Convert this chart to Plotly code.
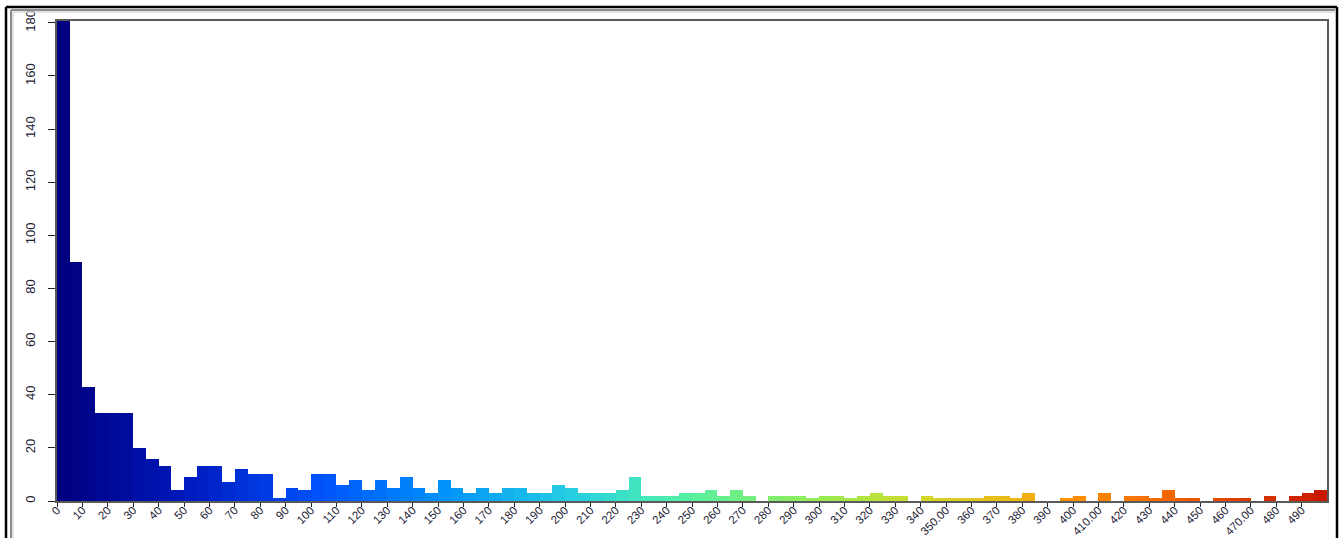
import plotly.graph_objects as go
from plotly.colors import sample_colorscale

# Histogram of counts in 5-unit bins from 0 to 500
bin_width = 5
bin_lefts = list(range(0, 500, bin_width))
counts = [
    181, 90, 43, 33, 33, 33, 20, 16, 13, 4,
    9, 13, 13, 7, 12, 10, 10, 1, 5, 4,
    10, 10, 6, 8, 4, 8, 5, 9, 5, 3,
    8, 5, 3, 5, 3, 5, 5, 3, 3, 6,
    5, 3, 3, 3, 4, 9, 2, 2, 2, 3,
    3, 4, 2, 4, 2, 0, 2, 2, 2, 1,
    2, 2, 1, 2, 3, 2, 2, 0, 2, 1,
    1, 1, 1, 2, 2, 1, 3, 0, 0, 1,
    2, 0, 3, 0, 2, 2, 1, 4, 1, 1,
    0, 1, 1, 1, 0, 2, 0, 2, 3, 4,
]
tick_values = list(range(0, 500, 10))
tick_labels = [
    "0", "10", "20", "30", "40", "50", "60", "70", "80", "90",
    "100", "110", "120", "130", "140", "150", "160", "170", "180", "190",
    "200", "210", "220", "230", "240", "250", "260", "270", "280", "290",
    "300", "310", "320", "330", "340", "350.00", "360", "370", "380", "390",
    "400", "410.00", "420", "430", "440", "450", "460", "470.00", "480", "490",
]
y_ticks = [0, 20, 40, 60, 80, 100, 120, 140, 160, 180]

# jet-like ramp from navy through cyan and yellow to red
ramp = [
    [0.00, "rgb(0,0,128)"],
    [0.10, "rgb(0,26,190)"],
    [0.20, "rgb(0,80,250)"],
    [0.30, "rgb(0,145,250)"],
    [0.40, "rgb(35,205,228)"],
    [0.455, "rgb(64,228,192)"],
    [0.50, "rgb(88,240,160)"],
    [0.60, "rgb(150,236,85)"],
    [0.68, "rgb(208,218,42)"],
    [0.76, "rgb(238,182,20)"],
    [0.80, "rgb(255,145,0)"],
    [0.88, "rgb(245,100,0)"],
    [0.95, "rgb(216,52,0)"],
    [1.00, "rgb(200,26,0)"],
]
n = len(counts)
bar_colors = sample_colorscale(ramp, [i / (n - 1) for i in range(n)])

W, H = 1341, 538
L, R, T, B = 57, 1327, 21, 501

fig = go.Figure(
    go.Bar(
        x=[b + bin_width / 2 for b in bin_lefts],
        y=counts,
        width=bin_width,
        marker=dict(color=bar_colors, line=dict(width=0)),
        hoverinfo="x+y",
    )
)


def px_x(p):
    return (p - L) / (R - L)


def px_y(p):
    return (B - p) / (B - T)


frame = [
    # outer black frame
    dict(x0=px_x(6), x1=px_x(6), y0=px_y(545), y1=px_y(7), color="#000000", w=2.5),
    dict(x0=px_x(6), x1=px_x(1337), y0=px_y(7), y1=px_y(7), color="#000000", w=2.5),
    dict(x0=px_x(1337), x1=px_x(1337), y0=px_y(7), y1=px_y(545), color="#000000", w=2.5),
    # inner grey bevel
    dict(x0=px_x(11), x1=px_x(11), y0=px_y(545), y1=px_y(10), color="#8c8c8c", w=2),
    dict(x0=px_x(11), x1=px_x(1335), y0=px_y(10), y1=px_y(10), color="#8c8c8c", w=2),
    dict(x0=px_x(13), x1=px_x(13), y0=px_y(545), y1=px_y(12), color="#d8d8d8", w=1.5),
    dict(x0=px_x(13), x1=px_x(1335), y0=px_y(12), y1=px_y(12), color="#d8d8d8", w=1.5),
]
shapes = [
    dict(type="line", xref="paper", yref="paper", x0=s["x0"], x1=s["x1"],
         y0=s["y0"], y1=s["y1"], line=dict(color=s["color"], width=s["w"]),
         layer="above")
    for s in frame
]

font_family = "Liberation Sans, Arial, sans-serif"
label_color = "#1e2236"

fig.update_layout(
    width=W,
    height=H,
    margin=dict(l=L, r=W - R, t=T, b=H - B, pad=0, autoexpand=False),
    paper_bgcolor="white",
    plot_bgcolor="white",
    bargap=0,
    showlegend=False,
    shapes=shapes,
    xaxis=dict(
        range=[0, 500],
        automargin=False,
        tickmode="array",
        tickvals=tick_values,
        ticktext=tick_labels,
        tickangle=-45,
        ticks="outside",
        ticklen=4,
        tickcolor="#222222",
        tickfont=dict(family=font_family, size=11.5, color=label_color),
        ticklabelstandoff=-8,
        showgrid=False,
        zeroline=False,
        showline=True,
        linecolor="#5a5a5a",
        linewidth=2,
        mirror=True,
    ),
    yaxis=dict(
        range=[0, 180.7],
        automargin=False,
        tickmode="array",
        tickvals=y_ticks,
        tickangle=-90,
        ticks="outside",
        ticklen=7,
        tickcolor="#222222",
        tickfont=dict(family=font_family, size=13, color=label_color),
        showgrid=False,
        zeroline=False,
        showline=True,
        linecolor="#5a5a5a",
        linewidth=2,
        mirror=True,
        ticklabelstandoff=8,
    ),
)

fig.write_html("out.html")
